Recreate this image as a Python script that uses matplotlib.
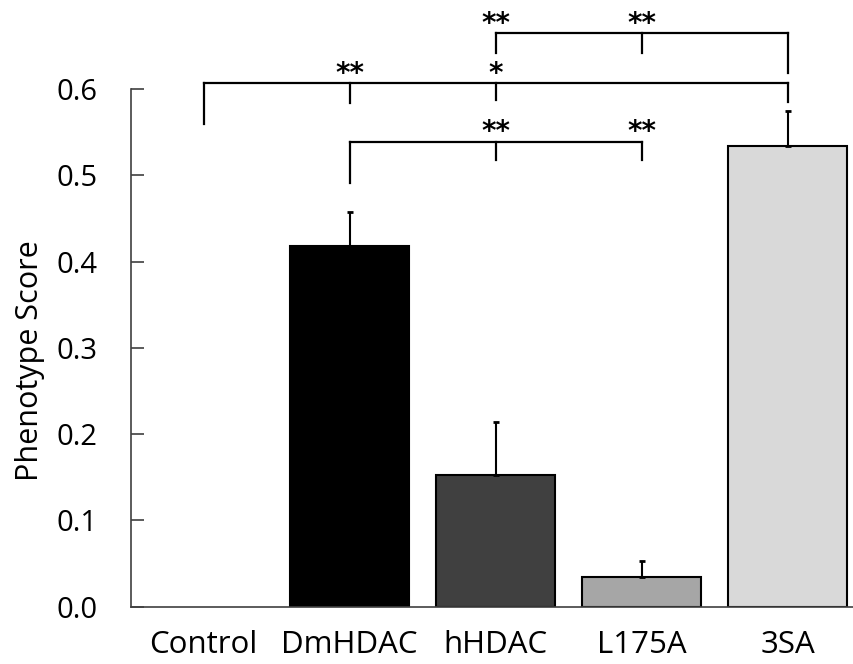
import matplotlib.pyplot as plt

plt.rcParams['font.family'] = ['Open Sans', 'DejaVu Sans']

groups = ["Control", "DmHDAC", "hHDAC", "L175A", "3SA"]
scores = [0.0, 0.418, 0.153, 0.034, 0.534]
errors = [0.0, 0.040, 0.061, 0.019, 0.041]
bar_colors = ["white", "black", "#404040", "#a6a6a6", "#d9d9d9"]

# significance brackets: (group indices with legs, bar height, leg bottoms, stars above legs)
brackets = [
    ([0, 1, 2, 4], 0.6065, [0.559, 0.584, 0.587, 0.585], {1: "**", 2: "*"}),
    ([2, 3, 4], 0.6645, [0.642, 0.642, 0.619], {2: "**", 3: "**"}),
    ([1, 2, 3], 0.539, [0.491, 0.518, 0.518], {2: "**", 3: "**"}),
]

fig = plt.figure(figsize=(8.54, 6.64), dpi=100)
ax = fig.add_axes([0.153, 0.0863, 0.855, 0.7797])

x = list(range(len(groups)))
ax.bar(x[1:], scores[1:], width=0.815, color=bar_colors[1:], edgecolor="black",
       linewidth=1.5, zorder=2)
ax.errorbar(x[1:], scores[1:], yerr=[[0] * 4, errors[1:]], fmt="none", ecolor="black",
            elinewidth=1.5, capsize=2.5, capthick=2, zorder=3)

for legs, top, bottoms, stars in brackets:
    ax.plot([legs[0], legs[-1]], [top, top], color="black", lw=1.6, clip_on=False,
            solid_capstyle="projecting")
    for g, b in zip(legs, bottoms):
        ax.plot([g, g], [b, top], color="black", lw=1.6, clip_on=False)
    for g, s in stars.items():
        ax.text(g, top + 0.0015, s, ha="center", va="baseline", fontsize=20,
                fontweight="bold", family="DejaVu Sans")

ax.set_xlim(-0.5, 4.5)
ax.set_ylim(0, 0.6)
ax.set_yticks([0.0, 0.1, 0.2, 0.3, 0.4, 0.5, 0.6])
ax.set_yticklabels(["0.0", "0.1", "0.2", "0.3", "0.4", "0.5", "0.6"])
ax.set_xticks(x)
ax.set_xticklabels(groups)
ax.tick_params(axis="y", direction="in", length=9, width=1.2, color="#404040",
               labelsize=21, pad=24)
ax.tick_params(axis="x", length=0, labelsize=22.5, pad=17)
ax.set_ylabel("Phenotype Score", fontsize=22, labelpad=8)
ax.yaxis.label.set_y(0.475)

for side in ["top", "right"]:
    ax.spines[side].set_visible(False)
for side in ["left", "bottom"]:
    ax.spines[side].set_color("#404040")
    ax.spines[side].set_linewidth(1.2)

fig.savefig("out.png", dpi=100)
